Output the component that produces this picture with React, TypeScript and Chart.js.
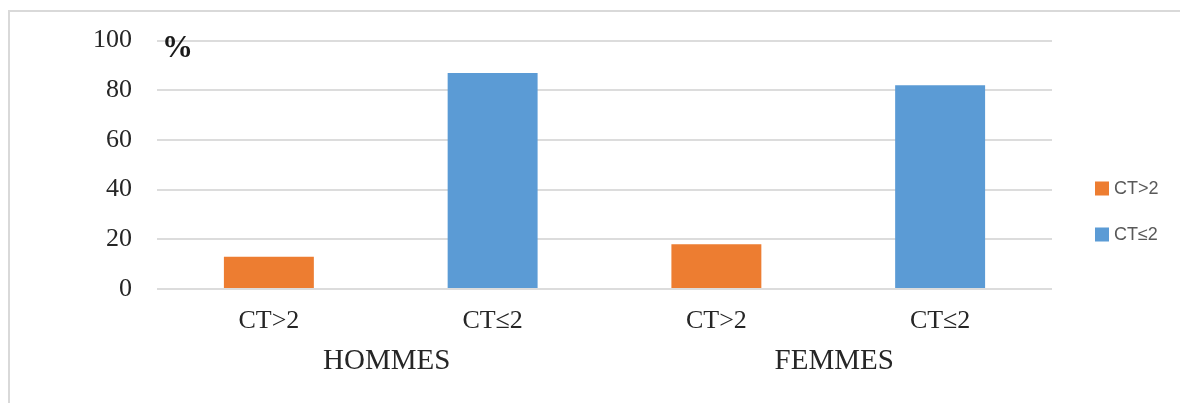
import React, { useEffect, useRef } from 'react';
import { Chart, registerables } from 'chart.js';

Chart.register(...registerables);

// Bar categories and the group each pair belongs to
const categories = ['CT>2', 'CT≤2', 'CT>2', 'CT≤2'];
const groups = ['HOMMES', 'FEMMES'];

// Series (percent); null where a series has no bar in that slot
const seriesNames = ['CT>2', 'CT≤2'];
const ctAbove2: (number | null)[] = [13, null, 18, null];
const ctAtMost2: (number | null)[] = [null, 87, null, 82];
const seriesColors = ['#ED7D31', '#5B9BD5'];

// Y axis ticks
const yTicks = [0, 20, 40, 60, 80, 100];
const yUnit = '%';

const SERIF = '"Liberation Serif", "Times New Roman", serif';
const SANS = '"Liberation Sans", Arial, sans-serif';

const decorations = {
  id: 'decorations',
  beforeDraw(chart: any) {
    const { ctx, width, height } = chart;
    ctx.save();
    ctx.strokeStyle = '#d9d9d9';
    ctx.lineWidth = 2;
    ctx.beginPath();
    ctx.moveTo(9, height);
    ctx.lineTo(9, 11);
    ctx.lineTo(width, 11);
    ctx.stroke();
    ctx.restore();
  },
  afterDraw(chart: any) {
    const { ctx, chartArea, scales } = chart;
    const x = scales.x;
    const y = scales.y;
    ctx.save();

    // unit label next to the top tick
    ctx.fillStyle = '#1a1a1a';
    ctx.font = `bold 31px ${SERIF}`;
    ctx.textAlign = 'left';
    ctx.textBaseline = 'alphabetic';
    ctx.fillText(yUnit, chartArea.left + 5, y.getPixelForValue(100) + 16);

    // group labels under each pair of bars
    ctx.fillStyle = '#262626';
    ctx.font = `29px ${SERIF}`;
    ctx.textAlign = 'center';
    ctx.textBaseline = 'middle';
    groups.forEach((g, i) => {
      const cx = (x.getPixelForValue(i * 2) + x.getPixelForValue(i * 2 + 1)) / 2 + 6;
      ctx.fillText(g, cx, chartArea.bottom + 72);
    });

    // legend on the right
    const legendX = chartArea.right + 43;
    const spacing = 46;
    const centerY = chart.height / 2 + 10;
    const startY = centerY - (spacing * (seriesNames.length - 1)) / 2;
    ctx.font = `18px ${SANS}`;
    ctx.textAlign = 'left';
    ctx.textBaseline = 'middle';
    seriesNames.forEach((name, i) => {
      const cy = startY + i * spacing;
      ctx.fillStyle = seriesColors[i];
      ctx.fillRect(legendX, cy - 7, 14, 14);
      ctx.fillStyle = '#595959';
      ctx.fillText(name, legendX + 19, cy + 1);
    });
    ctx.restore();
  },
};

export default function App() {
  const canvasRef = useRef<HTMLCanvasElement | null>(null);

  useEffect(() => {
    document.body.style.margin = '0';
    const canvas = canvasRef.current;
    if (!canvas) return;
    const chart = new Chart(canvas, {
      type: 'bar',
      data: {
        labels: categories,
        datasets: [
          {
            label: seriesNames[0],
            data: ctAbove2,
            backgroundColor: seriesColors[0],
            borderWidth: 0,
          },
          {
            label: seriesNames[1],
            data: ctAtMost2,
            backgroundColor: seriesColors[1],
            borderWidth: 0,
          },
        ],
      },
      options: {
        animation: false,
        responsive: false,
        skipNull: true,
        datasets: {
          bar: { barPercentage: 0.402, categoryPercentage: 1 },
        },
        layout: { padding: { left: 0, top: 40, right: 128, bottom: 0 } },
        plugins: {
          legend: { display: false },
          tooltip: { enabled: false },
        },
        scales: {
          x: {
            grid: { display: false, drawTicks: false },
            border: { display: false },
            ticks: {
              padding: 17,
              color: '#262626',
              font: { family: SERIF, size: 26 },
              maxRotation: 0,
            },
            afterFit(scale: any) {
              scale.height = 114;
            },
          },
          y: {
            min: 0,
            max: 100,
            grid: { color: '#dcdcdc', lineWidth: 2, drawTicks: false },
            border: { display: false },
            ticks: {
              padding: 25,
              color: '#262626',
              font: { family: SERIF, size: 26 },
            },
            afterBuildTicks(scale: any) {
              scale.ticks = yTicks.map((v) => ({ value: v }));
            },
            afterFit(scale: any) {
              scale.width = 157;
            },
          },
        },
      } as any,
      plugins: [decorations],
    });
    return () => chart.destroy();
  }, []);

  return (
    <div style={{ width: 1180, height: 403, position: 'relative' }}>
      <canvas ref={canvasRef} width={1180} height={403} style={{ display: 'block' }} />
    </div>
  );
}
